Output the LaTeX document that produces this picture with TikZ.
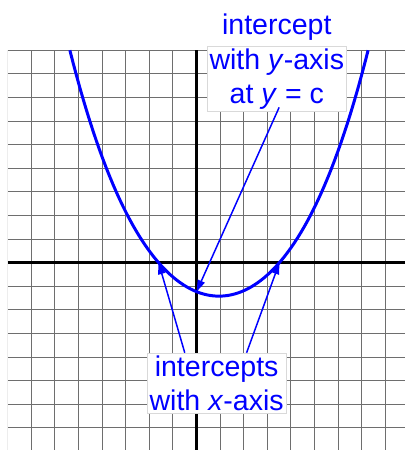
\documentclass[tikz,border=0pt]{standalone}
\usepackage{fontspec}
\setmainfont{Liberation Sans}
\usepackage{xcolor}
\definecolor{lblblue}{RGB}{0,0,255}
\definecolor{gridgray}{RGB}{110,110,110}
\usetikzlibrary{arrows.meta, positioning}

\begin{document}
\begin{tikzpicture}[x=0.5cm, y=0.5cm,
  gridline/.style={gridgray, line width=0.6pt},
  axisline/.style={black, line width=1.6pt},
  curveline/.style={lblblue, line width=1.8pt},
  pointer/.style={lblblue, line width=0.9pt, -{Triangle[length=7pt, width=4.5pt]}},
  labeltext/.style={text=lblblue, align=center, inner sep=1.5pt, font=\fontsize{17.2}{20.4}\selectfont},
  callout/.style={labeltext, fill=white, draw=black!15}]
  \useasboundingbox (-8.33,-7.94) rectangle (8.83,11.13);

  % Grid
  \begin{scope}
    \clip (-8,-7.94) rectangle (8.83,9);
    \draw[gridline, step=0.5cm] (-8,-8) grid (9,9);
  \end{scope}

  % Axes
  \draw[axisline] (-8,0) -- (8.83,0);
  \draw[axisline] (0,-7.94) -- (0,9);

  % Parabola
  \draw[curveline, domain=-5.37:7.27, samples=90]
    plot (\x, {0.208*(\x-0.95)*(\x-0.95) + 0.00133*(\x-0.95)*(\x-0.95)*(\x-0.95)*(\x-0.95) - 1.42});

  % Intercepts
  \coordinate (yint) at (0,-1.23);
  \coordinate (xleft) at (-1.61,0);
  \coordinate (xright) at (3.51,0);

  % Labels
  \node[callout] (ylbl) at (3.40,7.78) {with \textit{y}-axis\\at \textit{y} = c};
  \node[labeltext] (ylblhead) at (3.40,9.99) {intercept};
  \node[callout] (xlbl) at (0.85,-5.1) {intercepts\\with \textit{x}-axis};

  % Pointers
  \draw[pointer] ([xshift=0.05cm, yshift=0.1cm]ylbl.south) -- (yint);
  \draw[pointer] ([xshift=-0.675cm]xlbl.north) -- (xleft);
  \draw[pointer] ([xshift=0.635cm]xlbl.north) -- (xright);
\end{tikzpicture}
\end{document}
